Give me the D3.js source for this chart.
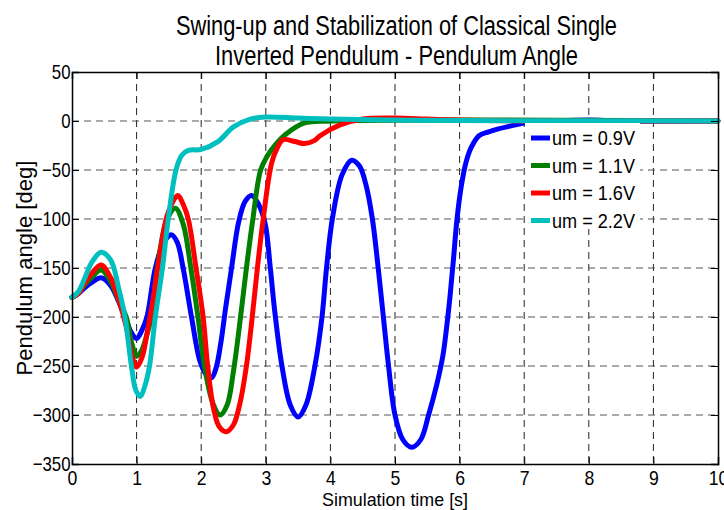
<!DOCTYPE html>
<html>
<head>
<meta charset="utf-8">
<script src="https://cdn.jsdelivr.net/npm/d3@7"></script>
<style>
  html, body { margin: 0; padding: 0; background: #fff; }
  svg { display: block; }
  text { font-family: "Liberation Sans", Arial, sans-serif; fill: #000; }
</style>
</head>
<body>
<svg id="chart" width="724" height="510"></svg>
<script>
// ---- Data ----
const titleLines = ["Swing-up and Stabilization of Classical Single", "Inverted Pendulum - Pendulum Angle"];
const xLabel = "Simulation time [s]";
const yLabel = "Pendulum angle [deg]";
const xTicks = [0, 1, 2, 3, 4, 5, 6, 7, 8, 9, 10];
const yTicks = [50, 0, -50, -100, -150, -200, -250, -300, -350];
const seriesNames = ["um = 0.9V", "um = 1.1V", "um = 1.6V", "um = 2.2V"];
const seriesColors = ["#0000ff", "#007f00", "#ff0000", "#00bfbf"];

const blueT = [0, 0.1, 0.2, 0.3, 0.45, 0.6, 0.72, 0.82, 0.92, 1.0, 1.08, 1.16, 1.29, 1.42, 1.54, 1.63, 1.72, 1.85, 1.98, 2.08, 2.16, 2.23, 2.3, 2.38, 2.47, 2.58, 2.68, 2.78, 2.88, 2.99, 3.07, 3.14, 3.25, 3.38, 3.5, 3.62, 3.76, 3.87, 3.94, 4.03, 4.18, 4.33, 4.45, 4.55, 4.65, 4.74, 4.82, 4.9, 5.0, 5.12, 5.26, 5.4, 5.52, 5.65, 5.74, 5.8, 5.85, 5.9, 5.96, 6.03, 6.1, 6.18, 6.3, 6.45, 6.6, 6.8, 7.0, 7.5, 8.0, 8.5, 10];
const blueV = [-180, -176, -170, -165, -160, -168, -184, -200, -216, -222, -214, -200, -150, -124, -116, -124, -150, -200, -245, -259, -262, -252, -228, -190, -150, -103, -82, -76, -84, -105, -150, -195, -250, -290, -302, -290, -250, -200, -150, -100, -55, -40, -46, -65, -100, -150, -200, -250, -300, -325, -333, -325, -300, -268, -240, -210, -180, -145, -100, -65, -42, -27, -15, -11, -8, -5, -2, 0, 1, 0, 0];

const greenT = [0, 0.1, 0.2, 0.3, 0.45, 0.6, 0.72, 0.84, 0.93, 1.0, 1.08, 1.15, 1.23, 1.32, 1.46, 1.6, 1.72, 1.84, 1.95, 2.05, 2.18, 2.29, 2.4, 2.5, 2.6, 2.7, 2.8, 2.92, 3.02, 3.15, 3.3, 3.6, 4.0, 10];
const greenV = [-180, -176, -167, -160, -152, -164, -183, -200, -228, -240, -234, -220, -200, -150, -103, -89, -105, -150, -200, -250, -288, -300, -290, -255, -205, -150, -100, -50, -36, -24, -14, -2, 0, 0];

const redT = [0, 0.1, 0.2, 0.3, 0.45, 0.6, 0.72, 0.84, 0.93, 1.0, 1.08, 1.18, 1.26, 1.35, 1.48, 1.64, 1.72, 1.8, 1.92, 2.03, 2.1, 2.19, 2.28, 2.39, 2.5, 2.6, 2.7, 2.79, 2.87, 2.96, 3.09, 3.18, 3.27, 3.45, 3.6, 3.75, 3.84, 4.15, 4.5, 5.0, 5.5, 6.0, 7.0, 10];
const redV = [-180, -176, -165, -156, -147, -160, -182, -210, -240, -251, -242, -210, -180, -140, -95, -76, -85, -100, -150, -200, -250, -293, -312, -317, -310, -288, -250, -200, -150, -100, -43, -27, -19, -21, -23, -20, -15, -4, 2, 3, 2, 1, 0, 0];

const cyanT = [0, 0.1, 0.2, 0.3, 0.45, 0.6, 0.72, 0.82, 0.92, 0.99, 1.06, 1.13, 1.2, 1.29, 1.4, 1.49, 1.61, 1.7, 1.8, 2.0, 2.26, 2.5, 2.76, 3.0, 3.5, 4.0, 5.0, 6.0, 10];
const cyanV = [-180, -174, -160, -145, -134, -142, -170, -200, -250, -275, -281, -270, -250, -200, -150, -100, -50, -35, -30, -29, -21, -6, 2, 4, 3, 2, 1, 0.5, 0];

const seriesT = [blueT, greenT, redT, cyanT];
const seriesV = [blueV, greenV, redV, cyanV];

// ---- Layout ----
const svg = d3.select("#chart");
const pLeft = 72, pRight = 718, pTop = 72, pBottom = 464;
const x = d3.scaleLinear().domain([0, 10]).range([pLeft, pRight]);
const y = d3.scaleLinear().domain([-350, 50]).range([pBottom, pTop]);

function narrow(sel, k) {
  sel.each(function () {
    const w = this.getComputedTextLength();
    d3.select(this).attr("textLength", w * k).attr("lengthAdjust", "spacingAndGlyphs");
  });
}

// Gridlines (dashed)
const grid = svg.append("g");
grid.selectAll("line.gx").data(xTicks.filter(d => d > 0 && d < 10)).join("line")
  .attr("x1", d => x(d)).attr("x2", d => x(d)).attr("y1", pTop).attr("y2", pBottom)
  .attr("stroke", "#222").attr("stroke-width", 1).attr("stroke-dasharray", "7,5");
grid.selectAll("line.gy").data(yTicks.filter(d => d > -350 && d < 50)).join("line")
  .attr("x1", pLeft).attr("x2", pRight).attr("y1", d => y(d)).attr("y2", d => y(d))
  .attr("stroke", "#555").attr("stroke-width", 1).attr("stroke-dasharray", "7,5");

// Series lines
const line = d3.line().x(d => x(d[0])).y(d => y(d[1])).curve(d3.curveCatmullRom.alpha(0.5));
seriesT.forEach((ts, i) => {
  const pts = ts.map((t, j) => [t, seriesV[i][j]]);
  svg.append("path").datum(pts)
    .attr("d", line)
    .attr("fill", "none")
    .attr("stroke", seriesColors[i])
    .attr("stroke-width", 5)
    .attr("stroke-linejoin", "round")
    .attr("stroke-linecap", "round");
});

// Axes (ticks inside, MATLAB style)
const xAxis = svg.append("g").attr("transform", `translate(0,${pBottom})`)
  .call(d3.axisBottom(x).tickValues(xTicks).tickSize(-7).tickPadding(6).tickFormat(d3.format("d")));
const xAxisTop = svg.append("g").attr("transform", `translate(0,${pTop})`)
  .call(d3.axisTop(x).tickValues(xTicks).tickSize(-7).tickFormat(""));
const yAxis = svg.append("g").attr("transform", `translate(${pLeft},0)`)
  .call(d3.axisLeft(y).tickValues(yTicks).tickSize(-7).tickPadding(1.5).tickFormat(d3.format("d")));
const yAxisRight = svg.append("g").attr("transform", `translate(${pRight},0)`)
  .call(d3.axisRight(y).tickValues(yTicks).tickSize(-7).tickFormat(""));
[xAxis, xAxisTop, yAxis, yAxisRight].forEach(g => {
  g.select(".domain").attr("stroke", "#000").attr("stroke-width", 1.5);
  g.selectAll(".tick line").attr("stroke", "#000").attr("stroke-width", 1);
});
xAxis.selectAll("text").attr("font-size", 21).attr("dy", "0.71em").attr("fill", "#000")
  .style("font-family", '"Liberation Sans", Arial, sans-serif');
yAxis.selectAll("text").attr("font-size", 21).attr("fill", "#000")
  .style("font-family", '"Liberation Sans", Arial, sans-serif');
narrow(xAxis.selectAll("text"), 0.84);
narrow(yAxis.selectAll("text"), 0.8);

// Legend
const lg = svg.append("g");
lg.append("rect").attr("x", 525).attr("y", 123).attr("width", 115).attr("height", 106).attr("fill", "#fff");
seriesNames.forEach((name, i) => {
  const yy = 138 + i * 27.5;
  lg.append("line").attr("x1", 531).attr("x2", 550).attr("y1", yy).attr("y2", yy)
    .attr("stroke", seriesColors[i]).attr("stroke-width", 5);
  lg.append("text").attr("x", 552).attr("y", yy + 7).attr("font-size", 20)
    .attr("textLength", 83).attr("lengthAdjust", "spacingAndGlyphs").text(name);
});

// Title
svg.append("text").attr("x", 396.5).attr("y", 35).attr("text-anchor", "middle")
  .attr("font-size", 27).attr("textLength", 441).attr("lengthAdjust", "spacingAndGlyphs").text(titleLines[0]);
svg.append("text").attr("x", 396.5).attr("y", 65).attr("text-anchor", "middle")
  .attr("font-size", 27).attr("textLength", 363).attr("lengthAdjust", "spacingAndGlyphs").text(titleLines[1]);

// Axis labels
svg.append("text").attr("x", 395).attr("y", 505.5).attr("text-anchor", "middle")
  .attr("font-size", 18.5).attr("textLength", 146).attr("lengthAdjust", "spacingAndGlyphs").text(xLabel);
svg.append("text").attr("transform", `translate(32,268) rotate(-90)`).attr("text-anchor", "middle")
  .attr("font-size", 22).attr("textLength", 215).attr("lengthAdjust", "spacingAndGlyphs").text(yLabel);
</script>
</body>
</html>
